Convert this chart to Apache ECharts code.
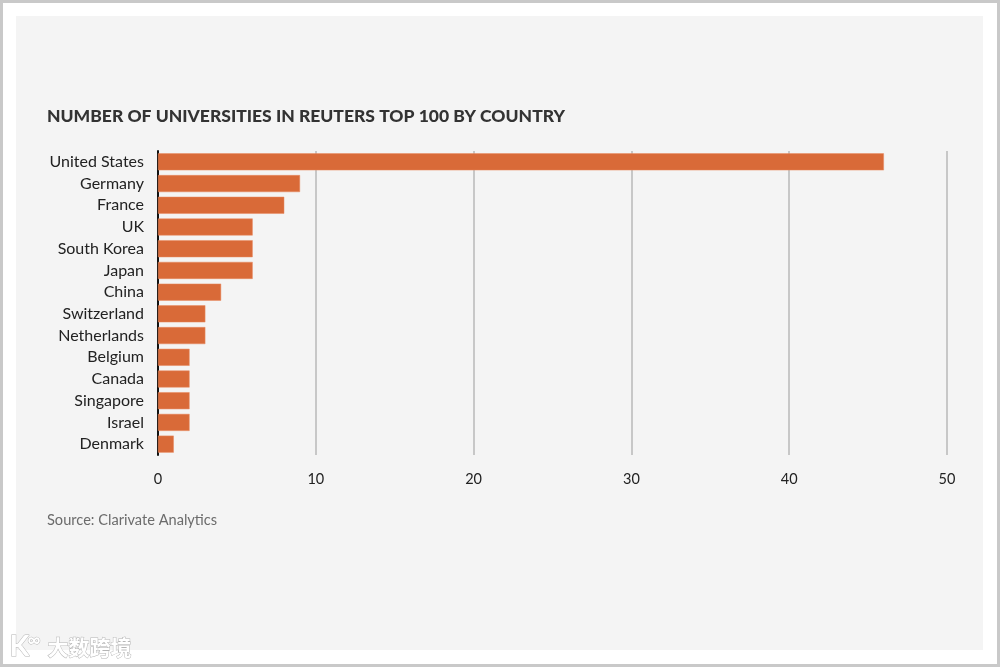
<!DOCTYPE html>
<html>
<head>
<meta charset="utf-8">
<style>
html,body{margin:0;padding:0;background:#fff;}
#chart{width:1000px;height:667px;}
</style>
<script src="https://cdn.jsdelivr.net/npm/echarts@6/dist/echarts.min.js"></script>
</head>
<body>
<div id="chart"></div>
<script>
const countries = ["United States","Germany","France","UK","South Korea","Japan","China","Switzerland","Netherlands","Belgium","Canada","Singapore","Israel","Denmark"];
const universities = [46,9,8,6,6,6,4,3,3,2,2,2,2,1];
const xTicks = [0,10,20,30,40,50];
const titleText = "NUMBER OF UNIVERSITIES IN REUTERS TOP 100 BY COUNTRY";
const sourceText = "Source: Clarivate Analytics";

const chart = echarts.init(document.getElementById('chart'));
const FONT = 'Lato';
chart.setOption({
  backgroundColor: '#ffffff',
  animation: false,
  graphic: [
    {type:'rect', z:-10, silent:true, shape:{x:1.5,y:1.5,width:997,height:664}, style:{fill:'#ffffff', stroke:'#c9c9c9', lineWidth:3}},
    {type:'rect', z:-9, silent:true, shape:{x:16,y:16,width:967,height:634}, style:{fill:'#f4f4f4'}},
    {type:'text', left:47, top:107, style:{text:titleText, font:'900 17.5px ' + FONT, fill:'#333333'}},
    {type:'text', left:47, top:513, style:{text:sourceText, font:'14.6px ' + FONT, fill:'#6b6b6b'}},
    {type:'text', left:9, top:632, style:{text:'K', font:'bold 29px ' + FONT, fill:'#ffffff', stroke:'#b5b5b5', lineWidth:1}},
    {type:'text', left:27, top:631, style:{text:'∞', font:'bold 18px ' + FONT, fill:'#ffffff', stroke:'#b5b5b5', lineWidth:1}},
    {type:'text', left:47, top:636, style:{text:'大数跨境', font:'bold 21px "Noto Sans CJK SC"', fill:'#ffffff', stroke:'#b5b5b5', lineWidth:1}}
  ],
  grid: {left:158, right:53, top:151, bottom:212, containLabel:false},
  xAxis: {
    type:'value', min:0, max:50, interval:10,
    axisLine:{show:false}, axisTick:{show:false},
    axisLabel:{color:'#222', fontFamily:FONT, fontSize:14.5, margin:17,
      formatter: v => xTicks.includes(v) ? String(v) : ''},
    splitLine:{show:true, lineStyle:{color:'#b8b8b8', width:1.5}}
  },
  yAxis: {
    type:'category', data:countries, inverse:true,
    axisLine:{show:true, lineStyle:{color:'#111', width:2}},
    axisTick:{show:false},
    axisLabel:{color:'#222', fontFamily:FONT, fontSize:16, margin:14, padding:[0,0,5,0]}
  },
  series: [{
    type:'bar', data:universities, barWidth:17,
    itemStyle:{color:'#d96a38', borderColor:'#e88a60', borderWidth:0.5},
    z:3
  }]
});
</script>
</body>
</html>
